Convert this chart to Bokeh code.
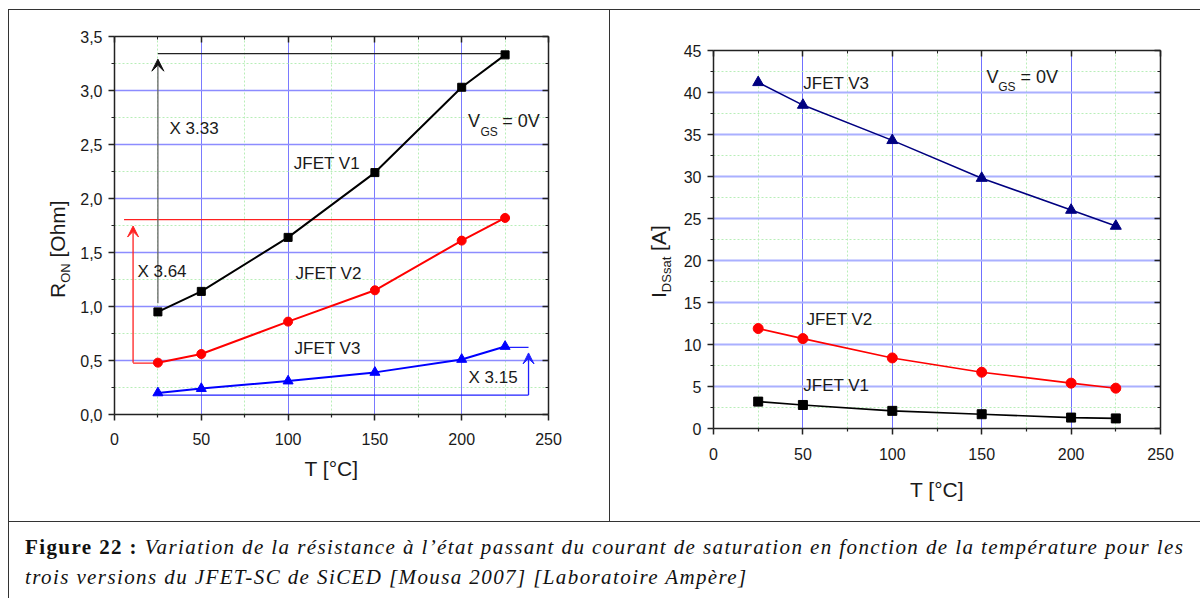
import math
from bokeh.plotting import figure
from bokeh.models import (FixedTicker, CustomJSTickFormatter, LinearAxis, Label,
                          Arrow, VeeHead, Div, Range1d, Spacer)
from bokeh.layouts import row, column
from bokeh.embed import file_html
from bokeh.resources import INLINE

# ---------------- data ----------------
temps = [25, 50, 100, 150, 200, 225]

ron_v1 = [0.95, 1.14, 1.64, 2.24, 3.03, 3.33]
ron_v2 = [0.48, 0.56, 0.86, 1.15, 1.61, 1.82]
ron_v3 = [0.20, 0.24, 0.31, 0.39, 0.51, 0.63]

idss_v1 = [3.2, 2.8, 2.1, 1.7, 1.3, 1.2]
idss_v2 = [11.9, 10.7, 8.4, 6.7, 5.4, 4.8]
idss_v3 = [41.2, 38.5, 34.3, 29.8, 26.0, 24.1]

x_ticks = [0, 50, 100, 150, 200, 250]
x_minor = [25, 75, 125, 175, 225]
ron_ticks = [0.0, 0.5, 1.0, 1.5, 2.0, 2.5, 3.0, 3.5]
ron_tick_labels = ["0,0", "0,5", "1,0", "1,5", "2,0", "2,5", "3,0", "3,5"]
ron_minor = [0.25, 0.75, 1.25, 1.75, 2.25, 2.75, 3.25]
idss_ticks = [0, 5, 10, 15, 20, 25, 30, 35, 40, 45]
idss_tick_labels = ["0", "5", "10", "15", "20", "25", "30", "35", "40", "45"]
idss_minor = [2.5, 7.5, 12.5, 17.5, 22.5, 27.5, 32.5, 37.5, 42.5]

series_names = ["JFET V1", "JFET V2", "JFET V3"]
ratio_labels = ["X 3.33", "X 3.64", "X 3.15"]
x_title = "T [°C]"

FONT = "Liberation Sans"
TXT = "#1a1a1a"
EDGE = "#333333"


def make_fig(width, height, yr, yticks, ylabels, yminor, borders, hgrid_w, hgrid_c, vgrid_c,
             xlab_standoff, xtick_standoff):
    p = figure(width=width, height=height, x_range=Range1d(0, 250), y_range=Range1d(*yr),
               output_backend="svg", toolbar_location=None,
               min_border_left=borders[0], min_border_right=borders[1],
               min_border_top=borders[2], min_border_bottom=borders[3])
    p.border_fill_color = None
    p.background_fill_color = "white"
    p.outline_line_color = None

    xt = FixedTicker(ticks=x_ticks, minor_ticks=x_minor)
    yt = FixedTicker(ticks=yticks, minor_ticks=yminor)
    yfmt = CustomJSTickFormatter(args=dict(tvals=yticks, tlabs=ylabels), code="""
        let k = -1;
        for (let j = 0; j < tvals.length; j++) {
            if (Math.abs(tvals[j] - tick) < 1e-9) { k = j; }
        }
        return k >= 0 ? tlabs[k] : '';
    """)

    xa = p.below[0]
    ya = p.left[0]
    xa.ticker = xt
    ya.ticker = yt
    ya.formatter = yfmt
    for ax in (xa, ya):
        ax.axis_line_color = "#222222"
        ax.axis_line_width = 1.5
        ax.major_tick_line_color = "#222222"
        ax.minor_tick_line_color = "#222222"
        ax.major_tick_line_width = 1.5
        ax.minor_tick_line_width = 1.2
        ax.major_tick_out = 6
        ax.major_tick_in = 0
        ax.minor_tick_out = 3
        ax.minor_tick_in = 0
        ax.major_label_text_font = FONT
        ax.major_label_text_font_size = "16px"
        ax.major_label_text_color = TXT
    xa.major_label_standoff = xtick_standoff
    ya.major_label_standoff = 6
    xa.axis_label = x_title
    xa.axis_label_text_font = FONT
    xa.axis_label_text_font_size = "21px"
    xa.axis_label_text_font_style = "normal"
    xa.axis_label_text_color = TXT
    xa.axis_label_standoff = xlab_standoff

    for loc, tk in (("above", xt), ("right", yt)):
        ax = LinearAxis(ticker=tk)
        ax.axis_line_color = "#222222"
        ax.axis_line_width = 1.5
        ax.major_tick_line_color = "#222222"
        ax.minor_tick_line_color = "#222222"
        ax.major_tick_line_width = 1.5
        ax.major_tick_out = 0
        ax.major_tick_in = 6
        ax.minor_tick_out = 0
        ax.minor_tick_in = 3
        ax.major_label_text_font_size = "0px"
        ax.major_label_text_color = None
        ax.major_label_standoff = 0
        p.add_layout(ax, loc)

    p.xgrid.grid_line_color = vgrid_c
    p.xgrid.grid_line_width = 1
    p.xgrid.minor_grid_line_color = "#b8eeb8"
    p.xgrid.minor_grid_line_dash = "2 2"
    p.xgrid.minor_grid_line_width = 1
    p.ygrid.grid_line_color = hgrid_c
    p.ygrid.grid_line_width = hgrid_w
    p.ygrid.minor_grid_line_color = "#b8eeb8"
    p.ygrid.minor_grid_line_dash = "2 2"
    p.ygrid.minor_grid_line_width = 1
    return p


def add_label(p, x, y, text, size="17px"):
    p.add_layout(Label(x=x, y=y, text=text, text_font=FONT, text_font_size=size,
                       text_color=TXT, text_align="left", text_baseline="middle"))


def ytitle_div(width, height, left, bottom, main, sub, rest, shadow):
    html = (
        f'<div style="position:relative; width:{width}px; height:{height}px;">'
        f'<div style="position:absolute; left:{left}px; top:{bottom}px; transform-origin:0 0; '
        f'transform:rotate(-90deg); white-space:nowrap; font-family:\'{FONT}\'; font-size:21px; '
        f'line-height:22px; color:{TXT};">{main}<span style="font-size:13px; position:relative; '
        f'top:5px;">{sub}</span> {rest}</div></div>')
    d = Div(width=width, height=height, text=html, margin=0)
    d.styles = {"box-shadow": shadow}
    return d


# ---------------- left chart : R_ON ----------------
p1 = make_fig(535, 512, (0, 3.5), ron_ticks, ron_tick_labels, ron_minor,
              (39, 62, 27, 107), 1.5, "#8c8cff", "#7a7aff", 9, 12)
p1.styles = {"box-shadow": f"inset 0 1px 0 {EDGE}, inset -1px 0 0 {EDGE}"}

# annotation guide lines (drawn first, under the series)
p1.line([temps[0], temps[-1]], [ron_v1[-1] + 0.012, ron_v1[-1] + 0.012], line_color="#222222", line_width=1.3)
p1.line([5.5, temps[-1]], [ron_v2[-1] - 0.015, ron_v2[-1] - 0.015], line_color="#ff2020", line_width=1.3)
p1.line([10.7, temps[0]], [ron_v2[0] - 0.004, ron_v2[0] - 0.004], line_color="#ff2020", line_width=1.3)
p1.line([temps[0], 238.5], [0.18, 0.18], line_color="#2020ff", line_width=1.3)
p1.line([temps[-1], 238.5], [ron_v3[-1] - 0.008, ron_v3[-1] - 0.008], line_color="#2020ff", line_width=1.3)

p1.add_layout(Arrow(end=VeeHead(size=12, fill_color="#111111", line_color="#111111", line_width=1),
                    x_start=temps[0], y_start=1.03, x_end=temps[0], y_end=3.29,
                    line_color="#666666", line_width=1.3))
p1.add_layout(Arrow(end=VeeHead(size=11, fill_color="#ff2020", line_color="#ff2020", line_width=1),
                    x_start=10.7, y_start=ron_v2[0], x_end=10.7, y_end=1.745,
                    line_color="#ff2020", line_width=1.3))
p1.add_layout(Arrow(end=VeeHead(size=11, fill_color="#2020ff", line_color="#2020ff", line_width=1),
                    x_start=238.5, y_start=0.18, x_end=238.5, y_end=0.57,
                    line_color="#2020ff", line_width=1.3))

p1.line(temps, ron_v1, line_color="black", line_width=2)
p1.scatter(temps, ron_v1, marker="square", size=8, fill_color="black", line_color="black")
p1.line(temps, ron_v2, line_color="#ff0000", line_width=2)
p1.scatter(temps, ron_v2, marker="circle", size=9, fill_color="#ff0000", line_color="#ff0000")
p1.line(temps, ron_v3, line_color="#0000ff", line_width=2)
p1.scatter(temps, ron_v3, marker="triangle", size=10, fill_color="#0000ff", line_color="#0000ff")

add_label(p1, 31.7, 2.65, ratio_labels[0])
add_label(p1, 13.2, 1.32, ratio_labels[1])
add_label(p1, 203.9, 0.34, ratio_labels[2])
add_label(p1, 103.3, 2.32, series_names[0])
add_label(p1, 104.3, 1.31, series_names[1])
add_label(p1, 103.7, 0.61, series_names[2])
add_label(p1, 203.6, 2.72, "V", "18px")
add_label(p1, 210.8, 2.615, "GS", "12px")
add_label(p1, 223.3, 2.72, "= 0V", "18px")

ylab1 = ytitle_div(67, 512, 39, 289, "R", "ON", "[Ohm]",
                   f"inset 1px 0 0 {EDGE}, inset 0 1px 0 {EDGE}")

# ---------------- right chart : I_DSsat ----------------
p2 = make_fig(520, 498, (0, 45), idss_ticks, idss_tick_labels, idss_minor,
              (33, 40, 27, 93), 2, "#aab0ff", "#7070ff", 15, 13)

p2.line(temps, idss_v3, line_color="#000080", line_width=1.6)
p2.scatter(temps, idss_v3, marker="triangle", size=11, fill_color="#000080", line_color="#000080")
p2.line(temps, idss_v2, line_color="#ff0000", line_width=1.6)
p2.scatter(temps, idss_v2, marker="circle", size=10, fill_color="#ff0000", line_color="#ff0000")
p2.line(temps, idss_v1, line_color="black", line_width=1.6)
p2.scatter(temps, idss_v1, marker="square", size=9, fill_color="black", line_color="black")

add_label(p2, 50.2, 41.1, series_names[2])
add_label(p2, 52.0, 13.0, series_names[1])
add_label(p2, 50.2, 5.1, series_names[0])
add_label(p2, 152.7, 41.84, "V", "18px")
add_label(p2, 159.2, 40.7, "GS", "12px")
add_label(p2, 171.7, 41.84, "= 0V", "18px")

ylab2 = ytitle_div(70, 512, 38, 289, "I", "DSsat", "[A]", f"inset 0 1px 0 {EDGE}")

right_col = column(Spacer(width=520, height=14, margin=0), p2)
right_col.styles = {"box-shadow": f"inset 0 1px 0 {EDGE}"}

# ---------------- caption ----------------
caption = Div(width=1192, height=77, margin=0, text=(
    f'<div style="border-top:1px solid {EDGE}; border-left:1px solid {EDGE}; box-sizing:border-box; '
    'height:77px; width:1192px; padding:10px 0 0 16px; font-family:\'Liberation Serif\'; '
    'font-size:21px; line-height:30px; color:#111; letter-spacing:1.4px; white-space:nowrap;">'
    '<b>Figure 22 :</b> <i>Variation de la résistance à l’état passant du courant de saturation '
    'en fonction de la température pour les<br>trois versions du JFET-SC de SiCED [Mousa 2007] '
    '[Laboratoire Ampère]</i></div>'))

layout = column(
    Spacer(width=1200, height=9, margin=0),
    row(Spacer(width=8, height=512, margin=0), ylab1, p1, ylab2, right_col),
    row(Spacer(width=8, height=77, margin=0), caption),
)

open("out.html", "w").write(file_html(layout, INLINE))
